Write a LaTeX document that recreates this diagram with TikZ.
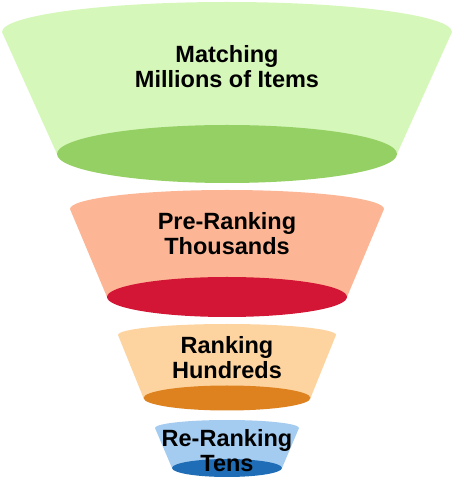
\documentclass[tikz,border=0pt]{standalone}
\usepackage{fontspec}
\setmainfont{Liberation Sans}
\usepackage{tikz}
\definecolor{matchLight}{HTML}{D6F7BA}
\definecolor{matchDark}{HTML}{95D064}
\definecolor{preLight}{HTML}{FDB695}
\definecolor{preDark}{HTML}{D31636}
\definecolor{rankLight}{HTML}{FDD4A0}
\definecolor{rankDark}{HTML}{DE821F}
\definecolor{rerankLight}{HTML}{A4CBF0}
\definecolor{rerankDark}{HTML}{1F6DB6}
\tikzset{
    stagelbl/.style={font=\bfseries\fontsize{23.5}{25}\selectfont, align=center, inner sep=0pt},
}

\begin{document}
\begin{tikzpicture}[x=1pt, y=1pt]
        \useasboundingbox (0,0) rectangle (454,482);
        % Matching
        \fill[matchLight] (2,450) arc[start angle=180, end angle=0, x radius=225, y radius=30] -- (397,328) -- (57,328) -- cycle;
        \fill[matchDark] (227,328) ellipse[x radius=170, y radius=29];
        \node[stagelbl] (match) at (227,415) {Matching\\ Millions of Items};
        % Pre-Ranking
        \fill[preLight] (70,273) arc[start angle=180, end angle=0, x radius=157, y radius=19] -- (347,185) -- (107,185) -- cycle;
        \fill[preDark] (227,185) ellipse[x radius=120, y radius=20];
        \node[stagelbl] (prerank) at (227,248) {Pre-Ranking\\ Thousands};
        % Ranking
        \fill[rankLight] (118,147) arc[start angle=180, end angle=0, x radius=109, y radius=11] -- (310.5,84) -- (143.5,84) -- cycle;
        \fill[rankDark] (227,84) ellipse[x radius=83.5, y radius=12.5];
        \node[stagelbl] (rank) at (227,124.5) {Ranking\\ Hundreds};
        % Re-Ranking
        \fill[rerankLight] (155,54) arc[start angle=180, end angle=0, x radius=72, y radius=8] -- (282,14) -- (172,14) -- cycle;
        \fill[rerankDark] (227,14) ellipse[x radius=55, y radius=9];
        \node[stagelbl] (rerank) at (227,31) {Re-Ranking\\ Tens};
    \end{tikzpicture}
\end{document}
